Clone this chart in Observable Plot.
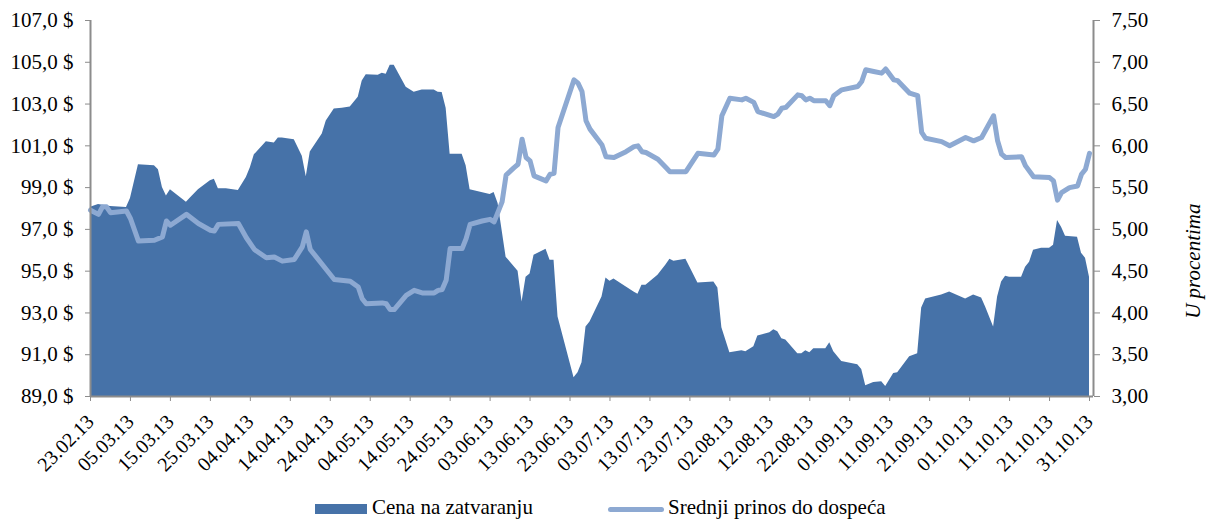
<!DOCTYPE html>
<html>
<head>
<meta charset="utf-8">
<script src="https://cdn.jsdelivr.net/npm/d3@7"></script>
<script src="https://cdn.jsdelivr.net/npm/@observablehq/plot@0.6"></script>
<style>
  html, body { margin: 0; padding: 0; background: #fff; }
  #wrap { position: relative; width: 1209px; height: 521px; font-family: "Liberation Serif", "Times New Roman", Times, "DejaVu Serif", serif; }
  #chart { position: absolute; left: 0; top: 0; }
  .leg { position: absolute; font-size: 21px; line-height: 21px; color: #000; white-space: nowrap; }
</style>
</head>
<body>
<div id="wrap">
  <div id="chart"></div>
  <div class="leg" style="left:315px; top:504px; width:52px; height:10px; background:#4672A8;"></div>
  <div class="leg" style="left:372px; top:497px;">Cena na zatvaranju</div>
  <div class="leg" style="left:608px; top:507px; width:56px; height:5px; border-radius:3px; background:#8DA9D2;"></div>
  <div class="leg" style="left:668px; top:497px;">Srednji prinos do dospeća</div>
</div>
<script>
// ---- Data ----
const priceDates = ["2013-02-23","2013-02-25","2013-02-28","2013-03-04","2013-03-05","2013-03-07","2013-03-11","2013-03-12","2013-03-13","2013-03-14","2013-03-15","2013-03-17","2013-03-19","2013-03-20","2013-03-22","2013-03-25","2013-03-26","2013-03-27","2013-03-29","2013-04-01","2013-04-03","2013-04-04","2013-04-05","2013-04-08","2013-04-10","2013-04-11","2013-04-12","2013-04-15","2013-04-17","2013-04-18","2013-04-19","2013-04-22","2013-04-23","2013-04-25","2013-04-27","2013-04-29","2013-05-01","2013-05-02","2013-05-03","2013-05-06","2013-05-07","2013-05-08","2013-05-09","2013-05-10","2013-05-13","2013-05-15","2013-05-17","2013-05-20","2013-05-21","2013-05-22","2013-05-23","2013-05-24","2013-05-27","2013-05-28","2013-05-29","2013-06-03","2013-06-04","2013-06-05","2013-06-07","2013-06-10","2013-06-11","2013-06-12","2013-06-13","2013-06-14","2013-06-17","2013-06-18","2013-06-19","2013-06-20","2013-06-24","2013-06-25","2013-06-26","2013-06-27","2013-06-28","2013-07-01","2013-07-02","2013-07-03","2013-07-04","2013-07-09","2013-07-10","2013-07-11","2013-07-12","2013-07-15","2013-07-17","2013-07-18","2013-07-19","2013-07-22","2013-07-25","2013-07-29","2013-07-30","2013-07-31","2013-08-02","2013-08-05","2013-08-06","2013-08-08","2013-08-09","2013-08-12","2013-08-13","2013-08-14","2013-08-15","2013-08-16","2013-08-19","2013-08-20","2013-08-21","2013-08-22","2013-08-23","2013-08-26","2013-08-27","2013-08-28","2013-08-30","2013-09-03","2013-09-04","2013-09-05","2013-09-07","2013-09-09","2013-09-10","2013-09-12","2013-09-13","2013-09-16","2013-09-18","2013-09-19","2013-09-20","2013-09-24","2013-09-26","2013-09-30","2013-10-02","2013-10-04","2013-10-05","2013-10-07","2013-10-08","2013-10-09","2013-10-10","2013-10-11","2013-10-14","2013-10-15","2013-10-16","2013-10-17","2013-10-19","2013-10-21","2013-10-22","2013-10-23","2013-10-24","2013-10-25","2013-10-28","2013-10-29","2013-10-30","2013-10-31"];
const priceValues = [98.06,98.19,98.10,98.05,98.48,100.10,100.05,99.86,99.00,98.60,98.90,98.60,98.30,98.50,98.90,99.33,99.40,98.95,98.95,98.86,99.48,99.95,100.57,101.20,101.14,101.38,101.38,101.29,100.50,99.52,100.70,101.57,102.19,102.76,102.80,102.86,103.33,104.10,104.40,104.38,104.48,104.43,104.86,104.86,103.81,103.57,103.67,103.67,103.57,103.55,102.80,100.60,100.60,100.05,98.90,98.67,98.76,98.24,95.67,95.00,93.52,94.71,94.86,95.76,96.05,95.52,95.52,92.80,89.90,90.14,90.62,92.33,92.57,93.76,94.67,94.52,94.62,94.00,93.90,94.33,94.33,94.81,95.29,95.57,95.48,95.57,94.43,94.48,94.19,92.29,91.10,91.19,91.14,91.38,91.90,92.05,92.19,92.10,91.76,91.71,91.05,91.05,91.19,91.10,91.29,91.29,91.57,91.14,90.67,90.52,90.29,89.52,89.67,89.71,89.48,90.10,90.14,90.90,91.05,93.24,93.67,93.86,94.00,93.67,93.86,93.71,93.29,92.33,93.76,94.48,94.76,94.71,94.71,95.19,95.43,96.00,96.10,96.10,96.24,97.43,97.10,96.67,96.62,95.86,95.62,94.71];

const yieldDates = ["2013-02-23","2013-02-25","2013-02-26","2013-02-27","2013-02-28","2013-03-04","2013-03-05","2013-03-07","2013-03-11","2013-03-13","2013-03-14","2013-03-15","2013-03-19","2013-03-22","2013-03-25","2013-03-26","2013-03-27","2013-04-01","2013-04-03","2013-04-05","2013-04-08","2013-04-10","2013-04-12","2013-04-15","2013-04-17","2013-04-18","2013-04-19","2013-04-23","2013-04-25","2013-04-29","2013-05-01","2013-05-02","2013-05-03","2013-05-07","2013-05-08","2013-05-09","2013-05-10","2013-05-13","2013-05-15","2013-05-17","2013-05-20","2013-05-21","2013-05-22","2013-05-23","2013-05-24","2013-05-27","2013-05-28","2013-05-29","2013-06-01","2013-06-03","2013-06-04","2013-06-05","2013-06-06","2013-06-07","2013-06-09","2013-06-10","2013-06-11","2013-06-12","2013-06-13","2013-06-14","2013-06-17","2013-06-18","2013-06-19","2013-06-20","2013-06-24","2013-06-25","2013-06-26","2013-06-27","2013-06-28","2013-07-01","2013-07-02","2013-07-04","2013-07-07","2013-07-09","2013-07-10","2013-07-11","2013-07-12","2013-07-15","2013-07-17","2013-07-18","2013-07-22","2013-07-25","2013-07-29","2013-07-30","2013-07-31","2013-08-02","2013-08-05","2013-08-06","2013-08-08","2013-08-09","2013-08-13","2013-08-14","2013-08-15","2013-08-16","2013-08-19","2013-08-20","2013-08-21","2013-08-22","2013-08-23","2013-08-26","2013-08-27","2013-08-28","2013-08-30","2013-09-03","2013-09-04","2013-09-05","2013-09-07","2013-09-09","2013-09-10","2013-09-12","2013-09-13","2013-09-16","2013-09-18","2013-09-19","2013-09-20","2013-09-24","2013-09-26","2013-09-30","2013-10-02","2013-10-04","2013-10-07","2013-10-08","2013-10-09","2013-10-10","2013-10-14","2013-10-15","2013-10-17","2013-10-21","2013-10-22","2013-10-23","2013-10-24","2013-10-26","2013-10-28","2013-10-29","2013-10-30","2013-10-31"];
const yieldValues = [5.23,5.18,5.27,5.27,5.20,5.22,5.13,4.86,4.87,4.91,5.10,5.05,5.18,5.07,4.99,4.98,5.06,5.07,4.90,4.76,4.66,4.67,4.62,4.64,4.79,4.97,4.76,4.52,4.40,4.38,4.31,4.17,4.11,4.12,4.11,4.04,4.04,4.21,4.27,4.24,4.24,4.27,4.28,4.39,4.77,4.77,4.89,5.06,5.10,5.12,5.09,5.21,5.33,5.65,5.74,5.78,6.08,5.86,5.82,5.64,5.58,5.66,5.67,6.22,6.79,6.75,6.65,6.30,6.20,6.01,5.87,5.86,5.93,5.99,6.00,5.93,5.92,5.84,5.74,5.69,5.69,5.91,5.89,5.96,6.36,6.57,6.55,6.57,6.52,6.41,6.35,6.38,6.45,6.46,6.61,6.60,6.55,6.57,6.54,6.54,6.48,6.60,6.67,6.71,6.77,6.91,6.89,6.87,6.92,6.79,6.78,6.63,6.60,6.16,6.09,6.05,6.00,6.10,6.06,6.10,6.36,6.06,5.90,5.86,5.87,5.76,5.63,5.62,5.58,5.35,5.44,5.50,5.52,5.66,5.72,5.91];

const xTickLabels = ["23.02.13","05.03.13","15.03.13","25.03.13","04.04.13","14.04.13","24.04.13","04.05.13","14.05.13","24.05.13","03.06.13","13.06.13","23.06.13","03.07.13","13.07.13","23.07.13","02.08.13","12.08.13","22.08.13","01.09.13","11.09.13","21.09.13","01.10.13","11.10.13","21.10.13","31.10.13"];
const leftTicks = [89,91,93,95,97,99,101,103,105,107];
const rightTicks = [3.0,3.5,4.0,4.5,5.0,5.5,6.0,6.5,7.0,7.5];

const seriesNames = ["Cena na zatvaranju", "Srednji prinos do dospeća"];
const rightAxisTitle = "U procentima";

// ---- Build ----
const parseISO = d3.utcParse("%Y-%m-%d");
const parseTick = d3.utcParse("%d.%m.%y");
const fmtTick = d3.utcFormat("%d.%m.%y");

const price = priceDates.map((d, i) => ({date: parseISO(d), price: priceValues[i]}));
const yld = yieldDates.map((d, i) => ({date: parseISO(d), yield: yieldValues[i]}));
const xTicks = xTickLabels.map(parseTick);

const yMin = 89, yMax = 107, rMin = 3.0, rMax = 7.5;
const k = (yMax - yMin) / (rMax - rMin);
const toLeft = r => yMin + (r - rMin) * k;
const fromLeft = p => rMin + (p - yMin) / k;

const xDomain = [new Date(Date.UTC(2013, 1, 23)), new Date(Date.UTC(2013, 10, 1))];
const AXIS = "#8C8C8C";
const AREA = "#4672A8";
const LINE = "#8DA9D2";
const FONT = "'Liberation Serif', 'Times New Roman', Times, 'DejaVu Serif', serif";
const FS = 21;

const chart = Plot.plot({
  width: 1209,
  height: 478,
  marginLeft: 90,
  marginRight: 116,
  marginTop: 20,
  marginBottom: 82,
  style: {fontFamily: FONT, fontSize: FS + "px", color: "#000", background: "#fff"},
  x: {type: "utc", domain: xDomain},
  y: {domain: [yMin, yMax]},
  marks: [
    Plot.areaY(price, {x: "date", y1: yMin, y2: "price", fill: AREA}),
    Plot.lineY(yld, {x: "date", y: d => toLeft(d.yield), stroke: LINE, strokeWidth: 5, strokeLinejoin: "round", strokeLinecap: "round"}),
    Plot.ruleX([xDomain[0]], {stroke: AXIS, strokeWidth: 2}),
    Plot.ruleX([xDomain[1]], {stroke: AXIS, strokeWidth: 2}),
    Plot.ruleY([yMin], {stroke: AXIS, strokeWidth: 2}),
    Plot.axisY({anchor: "left", ticks: leftTicks, tickFormat: d => d.toFixed(1).replace(".", ",") + " $", tickSize: 5, tickPadding: 12, stroke: AXIS, fill: "#000", fontSize: FS, fontFamily: FONT, label: null}),
    Plot.axisY({anchor: "right", ticks: rightTicks.map(toLeft), tickFormat: p => fromLeft(p).toFixed(2).replace(".", ","), tickSize: 6, tickPadding: 12, stroke: AXIS, fill: "#000", fontSize: FS, fontFamily: FONT, label: null}),
    Plot.axisX({ticks: xTicks, tickSize: 5, stroke: AXIS, text: null, label: null}),
    Plot.axisX({ticks: xTicks, tickFormat: fmtTick, tickRotate: -45, tickSize: 0, tickPadding: 0, dy: 22, dx: 0, fill: "#000", fontSize: 20, fontFamily: FONT, label: null}),
    Plot.text([rightAxisTitle], {frameAnchor: "right", dx: 100, dy: -5, rotate: -90, fontSize: FS, fontStyle: "italic", fontFamily: FONT, fill: "#000"})
  ]
});
document.getElementById("chart").appendChild(chart);
</script>
</body>
</html>
